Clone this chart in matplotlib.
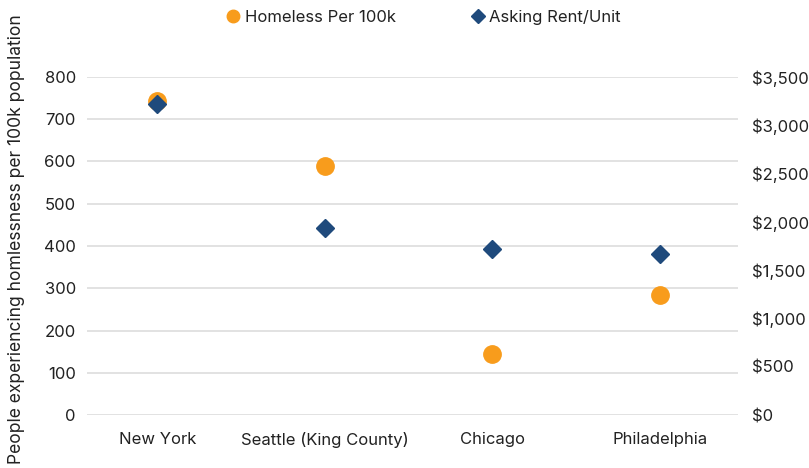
import matplotlib
matplotlib.use('Agg')
import matplotlib.pyplot as plt
from matplotlib.ticker import FuncFormatter, MultipleLocator
from matplotlib.lines import Line2D

plt.rcParams['font.family'] = ['Inter', 'DejaVu Sans']

cities = ['New York', 'Seattle (King County)', 'Chicago', 'Philadelphia']
homeless_per_100k = [743, 589, 144, 284]
asking_rent = [3220, 1940, 1720, 1665]

orange = '#F89C1C'
navy = '#1F4A7C'
text_col = '#222222'
grid_col = '#DDDDDD'

fig = plt.figure(figsize=(8.09, 4.68), dpi=100)
ax = fig.add_axes([0.1075, 0.1132, 0.8045, 0.7223])
ax2 = ax.twinx()

x = list(range(len(cities)))
ax.plot(x, homeless_per_100k, 'o', color=orange, markersize=12.5, zorder=3)
ax2.plot(x, asking_rent, 'D', color=navy, markersize=9, zorder=4)

ax.set_xlim(-0.42, 3.465)
ax.set_ylim(0, 800)
ax2.set_ylim(0, 3500)
ax.yaxis.set_major_locator(MultipleLocator(100))
ax2.yaxis.set_major_locator(MultipleLocator(500))
ax2.yaxis.set_major_formatter(FuncFormatter(lambda v, p: f'${v:,.0f}'))

ax.set_xticks(x)
ax.set_xticklabels(cities)
ax.grid(axis='y', color=grid_col, linewidth=1.2)
ax.set_axisbelow(True)

for a in (ax, ax2):
    for s in a.spines.values():
        s.set_visible(False)
    a.tick_params(length=0, labelsize=12, colors=text_col)
ax.tick_params(axis='y', pad=8)
ax.tick_params(axis='x', pad=12)
ax2.tick_params(axis='y', pad=10)

ax.set_ylabel('People experiencing homlessness per 100k population', fontsize=12.6,
              color=text_col)
ax.yaxis.set_label_coords(-0.095, 0.52)

handles = [
    Line2D([], [], marker='o', linestyle='none', color=orange, markersize=9),
    Line2D([], [], marker='D', linestyle='none', color=navy, markersize=7),
]
fig.legend(handles, ['Homeless Per 100k', 'Asking Rent/Unit'], loc='upper center',
           bbox_to_anchor=(0.523, 1.01), ncol=2, frameon=False, fontsize=12,
           handlelength=1.0, handletextpad=0.2, columnspacing=4.4, labelcolor=text_col)

fig.savefig('out.png', dpi=100)
